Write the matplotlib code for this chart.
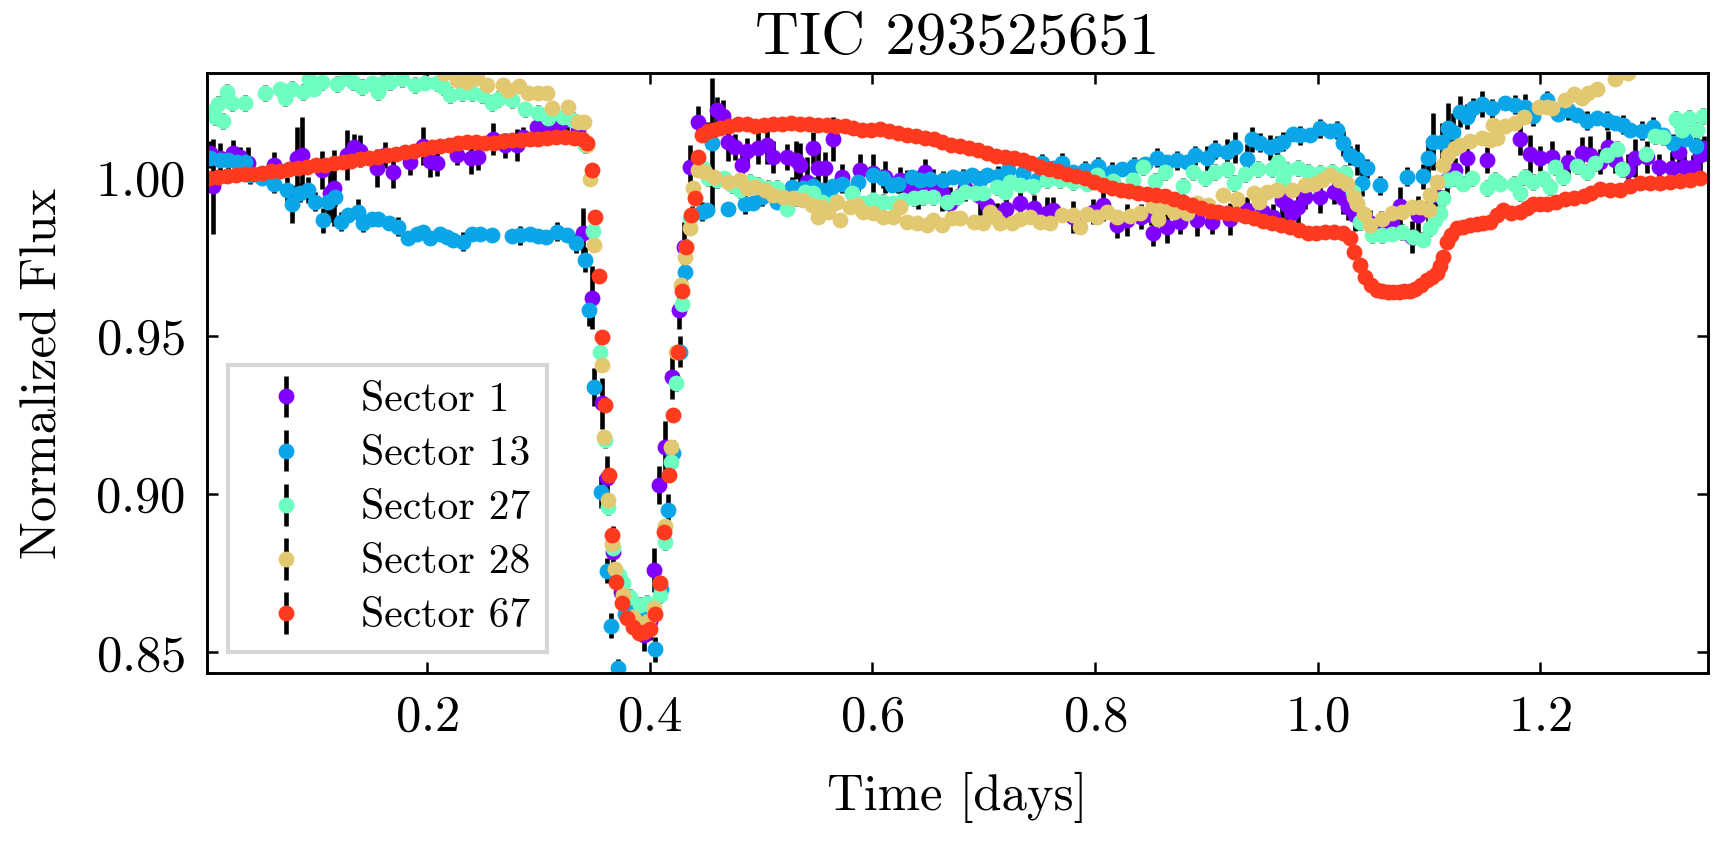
import numpy as np
import matplotlib
matplotlib.use("Agg")
import matplotlib.pyplot as plt
from matplotlib.ticker import MultipleLocator

plt.rcParams['font.family'] = 'serif'
plt.rcParams['font.serif'] = ['cmr10']
plt.rcParams['mathtext.fontset'] = 'cm'
plt.rcParams['axes.formatter.use_mathtext'] = True
plt.rcParams['font.size'] = 12.2
plt.rcParams['axes.linewidth'] = 0.7

labels = ['Sector 1', 'Sector 13', 'Sector 27', 'Sector 28', 'Sector 67']
colors = ['#8000ff', '#0aa6e8', '#6effc0', '#e3c872', '#ff3a1f']

# Sector 1: (time [d], flux, err)
sec1 = [
    (0.005, 1.0076, 0.004), (0.008, 0.9973, 0.015), (0.014, 1.0060, 0.005), (0.026, 1.0077, 0.004),
    (0.032, 1.0065, 0.003), (0.039, 1.0045, 0.005), (0.062, 1.0039, 0.004), (0.083, 1.0060, 0.010),
    (0.088, 1.0070, 0.012), (0.106, 1.0023, 0.006), (0.113, 0.9950, 0.009), (0.116, 0.9966, 0.012),
    (0.128, 1.0071, 0.008), (0.134, 1.0096, 0.004), (0.140, 1.0084, 0.005), (0.155, 1.0030, 0.006),
    (0.162, 1.0071, 0.004), (0.169, 1.0017, 0.005), (0.185, 1.0049, 0.004), (0.196, 1.0099, 0.006),
    (0.203, 1.0053, 0.005), (0.209, 1.0045, 0.004), (0.227, 1.0071, 0.003), (0.239, 1.0061, 0.005),
    (0.246, 1.0065, 0.004), (0.259, 1.0121, 0.005), (0.270, 1.0102, 0.004), (0.281, 1.0102, 0.005),
    (0.286, 1.0129, 0.003), (0.299, 1.0160, 0.005), (0.308, 1.0150, 0.004), (0.317, 1.0156, 0.004),
    (0.326, 1.0181, 0.005), (0.336, 1.0150, 0.004), (0.340, 0.9824, 0.008), (0.348, 0.9620, 0.010),
    (0.357, 0.9287, 0.008), (0.362, 0.9050, 0.007), (0.367, 0.8818, 0.008), (0.374, 0.8690, 0.006),
    (0.382, 0.8624, 0.005), (0.389, 0.8590, 0.004), (0.395, 0.8555, 0.005), (0.400, 0.8600, 0.006),
    (0.404, 0.8760, 0.007), (0.408, 0.9030, 0.006), (0.414, 0.9150, 0.008), (0.420, 0.9370, 0.007),
    (0.426, 0.9580, 0.006), (0.431, 0.9780, 0.008), (0.436, 1.0034, 0.007), (0.4435, 1.0176, 0.005),
    (0.452, 1.0134, 0.004), (0.4605, 1.0213, 0.004), (0.466, 1.0194, 0.005), (0.470, 1.0113, 0.006),
    (0.477, 1.0096, 0.004), (0.483, 1.0039, 0.005), (0.4875, 1.0084, 0.004), (0.497, 1.0093, 0.005),
    (0.5055, 1.0102, 0.006), (0.511, 1.0065, 0.005), (0.523, 1.0065, 0.004), (0.531, 1.0055, 0.006),
    (0.535, 1.0039, 0.007), (0.541, 0.9986, 0.008), (0.547, 1.0093, 0.005), (0.5515, 1.0030, 0.006),
    (0.5575, 1.0030, 0.005), (0.565, 1.0121, 0.007), (0.573, 1.0002, 0.004), (0.589, 1.0023, 0.005),
    (0.601, 1.0014, 0.006), (0.6115, 1.0002, 0.005), (0.625, 0.9992, 0.004), (0.631, 0.9973, 0.005),
    (0.641, 0.9960, 0.006), (0.6475, 1.0018, 0.004), (0.6546, 0.9976, 0.005), (0.6627, 0.9955, 0.006),
    (0.670, 0.9919, 0.005), (0.6834, 0.9966, 0.004), (0.697, 0.9940, 0.006), (0.703, 0.9913, 0.005),
    (0.712, 0.9880, 0.004), (0.720, 0.9900, 0.005), (0.733, 0.9919, 0.006), (0.745, 0.9905, 0.004),
    (0.757, 0.9887, 0.005), (0.7625, 0.9897, 0.004), (0.780, 0.9876, 0.005), (0.798, 0.9892, 0.004),
    (0.807, 0.9913, 0.005), (0.820, 0.9850, 0.004), (0.829, 0.9865, 0.005), (0.841, 0.9876, 0.004),
    (0.850, 0.9881, 0.003), (0.852, 0.9825, 0.004), (0.865, 0.9844, 0.005), (0.8766, 0.9860, 0.004),
    (0.892, 0.9865, 0.005), (0.905, 0.9860, 0.004), (0.9215, 0.9868, 0.005), (0.937, 0.9897, 0.004),
    (0.951, 0.9892, 0.005), (0.960, 0.9876, 0.004), (0.968, 0.9929, 0.006), (0.9727, 0.9913, 0.005),
    (0.977, 0.9887, 0.004), (0.9826, 0.9907, 0.005), (0.9889, 0.9939, 0.004), (1.002, 0.9939, 0.005),
    (1.0145, 0.9955, 0.004), (1.0225, 0.9935, 0.005), (1.0275, 0.9907, 0.004), (1.034, 0.9881, 0.005),
    (1.0475, 0.9856, 0.004), (1.057, 0.9845, 0.005), (1.067, 0.9856, 0.004), (1.0745, 0.9910, 0.006),
    (1.085, 0.9813, 0.005), (1.0905, 0.9881, 0.006), (1.0995, 0.9897, 0.005), (1.1055, 0.9944, 0.006),
    (1.1164, 0.9992, 0.005), (1.1236, 1.0023, 0.004), (1.134, 1.0060, 0.005), (1.1524, 1.0055, 0.004),
    (1.182, 1.0121, 0.005), (1.191, 1.0074, 0.006), (1.200, 1.0061, 0.004), (1.2108, 1.0065, 0.005),
    (1.225, 1.0048, 0.004), (1.2378, 1.0078, 0.005), (1.245, 1.0071, 0.006), (1.254, 1.0050, 0.004),
    (1.261, 1.0097, 0.005), (1.2674, 1.0055, 0.004), (1.279, 1.0023, 0.005), (1.2854, 1.0060, 0.006),
    (1.296, 1.0065, 0.005), (1.307, 1.0034, 0.004), (1.3185, 1.0029, 0.005), (1.3246, 1.0081, 0.004),
    (1.329, 1.0034, 0.005), (1.337, 1.0032, 0.004), (1.3437, 1.0071, 0.005), (1.347, 1.0092, 0.004),
]

# Sector 13: (time [d], flux, err)
sec13 = [
    (0.005, 1.0060, 0.003), (0.014, 1.0055, 0.002), (0.021, 1.0055, 0.003), (0.029, 1.0050, 0.002),
    (0.0365, 1.0050, 0.003), (0.041, 1.0008, 0.003), (0.052, 0.9997, 0.002), (0.062, 0.9981, 0.003),
    (0.0744, 0.9960, 0.004), (0.0787, 0.9916, 0.006), (0.086, 0.9952, 0.003), (0.093, 0.9960, 0.004),
    (0.0993, 0.9923, 0.003), (0.1066, 0.9865, 0.004), (0.111, 0.9923, 0.005), (0.1174, 0.9939, 0.003),
    (0.1227, 0.9860, 0.003), (0.129, 0.9881, 0.002), (0.138, 0.9892, 0.004), (0.1425, 0.9857, 0.003),
    (0.1506, 0.9869, 0.002), (0.156, 0.9869, 0.002), (0.1659, 0.9857, 0.002), (0.174, 0.9844, 0.003),
    (0.183, 0.9808, 0.002), (0.191, 0.9823, 0.002), (0.1965, 0.9828, 0.002), (0.2027, 0.9808, 0.002),
    (0.2117, 0.9823, 0.002), (0.218, 0.9813, 0.002), (0.2235, 0.9802, 0.002), (0.2325, 0.9797, 0.003),
    (0.2404, 0.9821, 0.002), (0.2476, 0.9821, 0.002), (0.2584, 0.9818, 0.002), (0.2764, 0.9815, 0.002),
    (0.2836, 0.9818, 0.003), (0.2925, 0.9821, 0.002), (0.2997, 0.9815, 0.002), (0.307, 0.9813, 0.002),
    (0.3168, 0.9828, 0.003), (0.3258, 0.9818, 0.002), (0.334, 0.9792, 0.003), (0.342, 0.9740, 0.004),
    (0.3455, 0.9580, 0.005), (0.350, 0.9339, 0.006), (0.3563, 0.9007, 0.005), (0.3614, 0.8758, 0.004),
    (0.3653, 0.8584, 0.004), (0.3713, 0.8450, 0.003), (0.378, 0.8620, 0.003), (0.385, 0.8650, 0.003),
    (0.392, 0.8630, 0.003), (0.398, 0.8580, 0.003), (0.405, 0.8510, 0.004), (0.410, 0.8700, 0.004),
    (0.416, 0.8950, 0.005), (0.421, 0.9130, 0.004), (0.427, 0.9450, 0.005), (0.432, 0.9700, 0.004),
    (0.438, 0.9880, 0.003), (0.4468, 0.9892, 0.003), (0.4516, 0.9897, 0.002), (0.456, 1.0108, 0.0205),
    (0.4705, 0.9900, 0.002), (0.4857, 0.9916, 0.003), (0.493, 0.9918, 0.002), (0.501, 0.9939, 0.003),
    (0.5145, 0.9923, 0.002), (0.528, 0.9971, 0.003), (0.538, 0.9966, 0.002), (0.547, 0.9973, 0.003),
    (0.555, 0.9960, 0.002), (0.5605, 0.9952, 0.003), (0.565, 0.9973, 0.002), (0.573, 0.9981, 0.003),
    (0.582, 0.9950, 0.002), (0.5875, 0.9986, 0.003), (0.601, 1.0008, 0.002), (0.6097, 0.9997, 0.003),
    (0.6178, 0.9976, 0.002), (0.6232, 0.9981, 0.003), (0.6358, 1.0002, 0.002), (0.643, 0.9992, 0.003),
    (0.652, 0.9994, 0.002), (0.6637, 0.9992, 0.003), (0.6727, 1.0002, 0.002), (0.6817, 0.9997, 0.003),
    (0.6897, 1.0008, 0.002), (0.6968, 0.9992, 0.003), (0.703, 1.0008, 0.002), (0.713, 1.0005, 0.003),
    (0.722, 1.0023, 0.002), (0.735, 1.0015, 0.003), (0.748, 0.9992, 0.002), (0.7525, 1.0045, 0.003),
    (0.762, 1.0030, 0.002), (0.7705, 1.0046, 0.003), (0.7804, 1.0018, 0.002), (0.7912, 1.0023, 0.003),
    (0.803, 1.0036, 0.003), (0.8155, 1.0018, 0.003), (0.8245, 1.0026, 0.002), (0.835, 1.0035, 0.003),
    (0.845, 1.0042, 0.002), (0.856, 1.0063, 0.003), (0.865, 1.0050, 0.002), (0.874, 1.0055, 0.003),
    (0.883, 1.0050, 0.002), (0.890, 1.0071, 0.003), (0.9008, 1.0060, 0.004), (0.908, 1.0087, 0.003),
    (0.9188, 1.0081, 0.004), (0.926, 1.0095, 0.005), (0.9368, 1.0057, 0.005), (0.941, 1.0120, 0.004),
    (0.9484, 1.0110, 0.003), (0.9574, 1.0095, 0.004), (0.9637, 1.0102, 0.003), (0.969, 1.0113, 0.003),
    (0.978, 1.0137, 0.002), (0.9844, 1.0134, 0.003), (0.9934, 1.0134, 0.002), (1.0024, 1.0155, 0.003),
    (1.0114, 1.0148, 0.002), (1.0176, 1.0150, 0.003), (1.023, 1.0108, 0.004), (1.0293, 1.0071, 0.003),
    (1.0356, 1.0057, 0.005), (1.040, 0.9983, 0.004), (1.0445, 1.0029, 0.003), (1.0563, 0.9976, 0.003),
    (1.0805, 1.0002, 0.003), (1.095, 1.0004, 0.004), (1.0995, 1.0060, 0.006), (1.1039, 1.0113, 0.009),
    (1.112, 1.0113, 0.006), (1.1174, 1.0155, 0.008), (1.122, 1.0144, 0.006), (1.128, 1.0208, 0.005),
    (1.1344, 1.0192, 0.004), (1.1398, 1.0221, 0.003), (1.148, 1.0232, 0.004), (1.157, 1.0218, 0.003),
    (1.1686, 1.0236, 0.002), (1.1776, 1.0229, 0.003), (1.1866, 1.0223, 0.004), (1.194, 1.0194, 0.003),
    (1.2066, 1.0244, 0.003), (1.216, 1.0202, 0.002), (1.2252, 1.0213, 0.003), (1.2333, 1.0197, 0.002),
    (1.2423, 1.0179, 0.003), (1.2513, 1.0187, 0.002), (1.2603, 1.0181, 0.003), (1.2675, 1.0173, 0.002),
    (1.2747, 1.0166, 0.003), (1.281, 1.0150, 0.002), (1.2918, 1.0148, 0.003), (1.3017, 1.0160, 0.003),
    (1.3107, 1.0134, 0.002), (1.3197, 1.0108, 0.003), (1.330, 1.0120, 0.002), (1.340, 1.0100, 0.003),
]

# Sector 27: (time [d], flux)
sec27 = [
    (0.0066, 1.0208), (0.0095, 1.0192), (0.0125, 1.0232), (0.0165, 1.0179), (0.020, 1.0269),
    (0.0245, 1.0234), (0.0365, 1.0234), (0.0545, 1.0266), (0.068, 1.0278), (0.0724, 1.0252),
    (0.0785, 1.0281), (0.0889, 1.0269), (0.0943, 1.0310), (0.0985, 1.0281), (0.1054, 1.0302),
    (0.1189, 1.0295), (0.128, 1.0318), (0.1338, 1.0302), (0.1413, 1.0285), (0.1503, 1.0297),
    (0.1562, 1.0271), (0.1607, 1.0300), (0.1668, 1.0302), (0.1772, 1.0310), (0.1892, 1.0292),
    (0.1982, 1.0300), (0.2087, 1.0297), (0.2147, 1.0287), (0.2207, 1.0260), (0.2312, 1.0266),
    (0.2402, 1.0266), (0.2491, 1.0260), (0.2581, 1.0234), (0.2641, 1.0247), (0.2761, 1.0244),
    (0.288, 1.0215), (0.300, 1.0204), (0.309, 1.0187), (0.3225, 1.0190), (0.3315, 1.0181),
    (0.342, 1.0102), (0.3494, 0.9832), (0.355, 0.9450), (0.360, 0.9170), (0.3629, 0.8958),
    (0.3668, 0.8829), (0.372, 0.8744), (0.3758, 0.8718), (0.3824, 0.8676), (0.3914, 0.8649),
    (0.3974, 0.8655), (0.403, 0.8640), (0.409, 0.8680), (0.414, 0.8850), (0.419, 0.9100),
    (0.424, 0.9350), (0.429, 0.9600), (0.433, 0.9780), (0.4363, 0.9871), (0.4483, 1.0029),
    (0.4528, 0.9997), (0.4603, 0.9992), (0.4663, 0.9997), (0.4738, 0.9976), (0.4812, 0.9960),
    (0.4902, 0.9986), (0.4977, 0.9976), (0.5067, 0.9966), (0.5142, 0.9966), (0.5232, 0.9902),
    (0.5322, 0.9934), (0.5396, 0.9955), (0.5471, 0.9950), (0.5546, 0.9923), (0.5666, 0.9923),
    (0.5816, 0.9950), (0.592, 0.9918), (0.601, 0.9929), (0.610, 0.9923), (0.619, 0.9918),
    (0.628, 0.9929), (0.637, 0.9934), (0.6459, 0.9939), (0.6549, 0.9939), (0.6669, 0.9923),
    (0.6759, 0.9939), (0.6834, 0.9955), (0.692, 0.9950), (0.6998, 0.9950), (0.7118, 0.9969),
    (0.7193, 0.9955), (0.7235, 0.9986), (0.7328, 0.9976), (0.7448, 0.9973), (0.7568, 0.9992),
    (0.7687, 0.9992), (0.7806, 0.9986), (0.7926, 0.9981), (0.8016, 1.0008), (0.816, 0.9990),
    (0.8344, 0.9992), (0.8434, 1.0032), (0.8541, 0.9990), (0.8631, 1.0018), (0.8793, 0.9973),
    (0.8883, 1.0018), (0.8991, 0.9997), (0.908, 1.0018), (0.9188, 1.0026), (0.9245, 0.9983),
    (0.935, 1.0010), (0.9468, 1.0026), (0.9594, 1.0026), (0.9648, 1.0050), (0.969, 0.9992),
    (0.9727, 1.0023), (0.9826, 1.0029), (0.9916, 1.0018), (1.0024, 1.0013), (1.0131, 1.0018),
    (1.0248, 1.0013), (1.032, 0.9955), (1.0355, 0.9918), (1.0383, 0.9860), (1.0491, 0.9818),
    (1.058, 0.9818), (1.067, 0.9823), (1.076, 0.9828), (1.0859, 0.9813), (1.0949, 0.9804),
    (1.1012, 0.9839), (1.1057, 0.9865), (1.1101, 0.9887), (1.1131, 0.9934), (1.1176, 0.9992),
    (1.1236, 0.9997), (1.1311, 0.9981), (1.1386, 0.9997), (1.1521, 0.9966), (1.1596, 0.9992),
    (1.1641, 0.9981), (1.1761, 0.9981), (1.1821, 0.9950), (1.1866, 1.0002), (1.194, 0.9986),
    (1.203, 0.9997), (1.209, 0.9970), (1.2135, 1.0032), (1.2207, 1.0002), (1.2333, 1.0036),
    (1.2423, 1.0018), (1.2495, 1.0045), (1.2603, 1.0071), (1.2693, 1.0090), (1.2738, 1.0026),
    (1.2954, 1.0074), (1.3035, 1.0131), (1.3107, 1.0127), (1.3224, 1.0184), (1.3278, 1.0150),
    (1.3341, 1.0187), (1.3413, 1.0150), (1.3467, 1.0194),
]

# Sector 28: (time [d], flux)
sec28 = [
    (0.215, 1.0330), (0.2267, 1.0308), (0.2357, 1.0302), (0.2447, 1.0313), (0.2536, 1.0292),
    (0.2686, 1.0292), (0.2731, 1.0276), (0.2821, 1.0289), (0.291, 1.0266), (0.300, 1.0266),
    (0.3075, 1.0268), (0.312, 1.0218), (0.327, 1.0223), (0.336, 1.0176), (0.3405, 1.0176),
    (0.3435, 1.0102), (0.3465, 0.9994), (0.3503, 0.9786), (0.357, 0.9407), (0.3593, 0.9179),
    (0.3629, 0.8981), (0.3665, 0.8842), (0.369, 0.8765), (0.376, 0.8680), (0.3854, 0.8612),
    (0.392, 0.8590), (0.398, 0.8600), (0.404, 0.8640), (0.409, 0.8720), (0.414, 0.8900),
    (0.419, 0.9150), (0.424, 0.9450), (0.428, 0.9660), (0.432, 0.9750), (0.4363, 0.9839),
    (0.4393, 0.9966), (0.4438, 1.0023), (0.4498, 1.0018), (0.4573, 1.0000), (0.4707, 0.9986),
    (0.4812, 0.9992), (0.4872, 0.9966), (0.4947, 0.9971), (0.5037, 0.9962), (0.5112, 0.9944),
    (0.5201, 0.9939), (0.5291, 0.9934), (0.5381, 0.9929), (0.5456, 0.9913), (0.5516, 0.9876),
    (0.5546, 0.9907), (0.5606, 0.9892), (0.5681, 0.9923), (0.5711, 0.9865), (0.5801, 0.9907),
    (0.586, 0.9913), (0.592, 0.9892), (0.601, 0.9887), (0.610, 0.9876), (0.619, 0.9876),
    (0.625, 0.9907), (0.631, 0.9860), (0.640, 0.9855), (0.6489, 0.9850), (0.6549, 0.9865),
    (0.6624, 0.9850), (0.6714, 0.9871), (0.6789, 0.9871), (0.6909, 0.9860), (0.6998, 0.9855),
    (0.7058, 0.9892), (0.7103, 0.9876), (0.7148, 0.9855), (0.7253, 0.9855), (0.7328, 0.9868),
    (0.7418, 0.9876), (0.7508, 0.9860), (0.7598, 0.9855), (0.7703, 0.9881), (0.7807, 0.9881),
    (0.7867, 0.9844), (0.7926, 0.9884), (0.8016, 0.9876), (0.8106, 0.9892), (0.8196, 0.9876),
    (0.8316, 0.9878), (0.8406, 0.9887), (0.8526, 0.9910), (0.8571, 0.9868), (0.8616, 0.9907),
    (0.8706, 0.9892), (0.8826, 0.9887), (0.8916, 0.9918), (0.902, 0.9913), (0.9155, 0.9944),
    (0.9275, 0.9931), (0.9425, 0.9950), (0.947, 0.9923), (0.9545, 0.9955), (0.9635, 0.9960),
    (0.977, 0.9960), (0.989, 0.9976), (0.9965, 0.9981), (1.004, 0.9992), (1.0114, 1.0008),
    (1.0189, 0.9992), (1.0265, 0.9981), (1.0324, 0.9939), (1.0354, 0.9916), (1.0414, 0.9884),
    (1.0473, 0.9850), (1.0578, 0.9868), (1.0668, 0.9887), (1.0758, 0.9892), (1.0847, 0.9907),
    (1.0922, 0.9907), (1.0997, 0.9897), (1.1012, 0.9944), (1.1072, 0.9986), (1.1131, 1.0039),
    (1.1176, 1.0071), (1.1236, 1.0092), (1.1281, 1.0102), (1.137, 1.0115), (1.1476, 1.0124),
    (1.155, 1.0118), (1.158, 1.0166), (1.161, 1.0124), (1.1686, 1.0162), (1.1776, 1.0171),
    (1.1851, 1.0192), (1.1986, 1.0223), (1.2061, 1.0223), (1.211, 1.0218), (1.2227, 1.0244),
    (1.2306, 1.0263), (1.2378, 1.0250), (1.2432, 1.0268), (1.2513, 1.0281), (1.2675, 1.0310),
    (1.279, 1.0331),
]

# Sector 67: (time [d], flux)
sec67 = [
    (0.004, 0.9998), (0.012, 1.0003), (0.020, 1.0004), (0.028, 1.0008), (0.036, 1.0010),
    (0.044, 1.0012), (0.052, 1.0015), (0.060, 1.0019), (0.068, 1.0022), (0.076, 1.0027),
    (0.084, 1.0030), (0.092, 1.0034), (0.100, 1.0038), (0.108, 1.0041), (0.116, 1.0046),
    (0.124, 1.0050), (0.132, 1.0053), (0.140, 1.0058), (0.148, 1.0061), (0.156, 1.0064),
    (0.164, 1.0070), (0.172, 1.0075), (0.180, 1.0079), (0.188, 1.0084), (0.196, 1.0090),
    (0.204, 1.0096), (0.212, 1.0100), (0.220, 1.0104), (0.228, 1.0109), (0.236, 1.0113),
    (0.244, 1.0111), (0.252, 1.0109), (0.260, 1.0110), (0.268, 1.0115), (0.276, 1.0117),
    (0.284, 1.0119), (0.292, 1.0121), (0.300, 1.0123), (0.308, 1.0125), (0.316, 1.0127),
    (0.324, 1.0128), (0.332, 1.0126), (0.339, 1.0120), (0.344, 1.0110), (0.348, 1.0025),
    (0.351, 0.9876), (0.354, 0.9690), (0.357, 0.9497), (0.360, 0.9280), (0.3636, 0.9060),
    (0.366, 0.8870), (0.370, 0.8723), (0.375, 0.8657), (0.380, 0.8610), (0.385, 0.8580),
    (0.390, 0.8560), (0.395, 0.8565), (0.400, 0.8575), (0.405, 0.8620), (0.409, 0.8720),
    (0.413, 0.8880), (0.417, 0.9060), (0.421, 0.9250), (0.425, 0.9450), (0.429, 0.9640),
    (0.433, 0.9780), (0.437, 0.9880), (0.4408, 0.9935), (0.4438, 1.0065), (0.447, 1.0135),
    (0.452, 1.0148), (0.457, 1.0150), (0.463, 1.0156), (0.471, 1.0162), (0.479, 1.0170),
    (0.487, 1.0168), (0.495, 1.0162), (0.503, 1.0166), (0.511, 1.0169), (0.519, 1.0170),
    (0.527, 1.0172), (0.535, 1.0170), (0.543, 1.0168), (0.551, 1.0165), (0.559, 1.0166),
    (0.567, 1.0164), (0.575, 1.0162), (0.583, 1.0156), (0.591, 1.0150), (0.599, 1.0150),
    (0.607, 1.0152), (0.615, 1.0148), (0.623, 1.0140), (0.631, 1.0134), (0.639, 1.0130),
    (0.647, 1.0126), (0.655, 1.0120), (0.663, 1.0112), (0.671, 1.0104), (0.679, 1.0098),
    (0.687, 1.0094), (0.695, 1.0088), (0.703, 1.0076), (0.711, 1.0069), (0.719, 1.0066),
    (0.727, 1.0060), (0.735, 1.0056), (0.743, 1.0045), (0.751, 1.0034), (0.759, 1.0028),
    (0.767, 1.0020), (0.775, 1.0012), (0.783, 1.0005), (0.791, 0.9998), (0.799, 0.9985),
    (0.807, 0.9975), (0.815, 0.9967), (0.823, 0.9962), (0.831, 0.9957), (0.839, 0.9951),
    (0.847, 0.9948), (0.855, 0.9944), (0.863, 0.9940), (0.871, 0.9932), (0.879, 0.9922),
    (0.887, 0.9912), (0.895, 0.9903), (0.903, 0.9895), (0.911, 0.9890), (0.919, 0.9888),
    (0.927, 0.9884), (0.935, 0.9878), (0.943, 0.9872), (0.951, 0.9862), (0.959, 0.9855),
    (0.967, 0.9850), (0.975, 0.9844), (0.983, 0.9834), (0.991, 0.9824), (0.999, 0.9826),
    (1.007, 0.9829), (1.015, 0.9827), (1.023, 0.9824), (1.029, 0.9809), (1.033, 0.9765),
    (1.038, 0.9723), (1.043, 0.9686), (1.048, 0.9660), (1.053, 0.9646), (1.058, 0.9641),
    (1.063, 0.9639), (1.068, 0.9638), (1.073, 0.9639), (1.078, 0.9640), (1.083, 0.9642),
    (1.088, 0.9648), (1.093, 0.9660), (1.098, 0.9676), (1.103, 0.9685), (1.107, 0.9698),
    (1.110, 0.9720), (1.113, 0.9750), (1.116, 0.9797), (1.120, 0.9818), (1.125, 0.9840),
    (1.131, 0.9845), (1.137, 0.9849), (1.143, 0.9852), (1.149, 0.9856), (1.155, 0.9860),
    (1.161, 0.9880), (1.167, 0.9897), (1.174, 0.9889), (1.182, 0.9890), (1.188, 0.9905),
    (1.194, 0.9916), (1.200, 0.9915), (1.206, 0.9916), (1.214, 0.9924), (1.222, 0.9931),
    (1.230, 0.9936), (1.239, 0.9941), (1.246, 0.9952), (1.254, 0.9963), (1.263, 0.9962),
    (1.272, 0.9960), (1.281, 0.9972), (1.290, 0.9982), (1.299, 0.9983), (1.308, 0.9983),
    (1.317, 0.9987), (1.326, 0.9990), (1.335, 0.9993), (1.344, 0.9997),
]

# typical flux errors for the sectors without per-point values
err27 = 0.0025
err28 = 0.0015
err67 = 0.0005

sectors = [(sec1, None), (sec13, None), (sec27, err27), (sec28, err28), (sec67, err67)]

fig = plt.figure(figsize=(5.757, 2.82), dpi=300)
ax = fig.add_axes([0.1199, 0.2045, 0.8691, 0.7092])

for (data, err), lab, col in zip(sectors, labels, colors):
    arr = np.array(data)
    t, f = arr[:, 0], arr[:, 1]
    e = arr[:, 2] if arr.shape[1] == 3 else err
    ax.errorbar(t, f, yerr=e, fmt='o', ms=2.8, color=col, ecolor='k',
                elinewidth=1.1, capsize=0, label=lab)

ax.set_xlim(0.0023, 1.3509)
ax.set_ylim(0.8435, 1.0330)
ax.xaxis.set_major_locator(MultipleLocator(0.2))
ax.yaxis.set_major_locator(MultipleLocator(0.05))
ax.minorticks_off()
ax.tick_params(direction='in', top=True, right=True, length=2.6, width=0.6, pad=5.2)

ax.set_xlabel('Time [days]', labelpad=7.5)
ax.set_ylabel('Normalized Flux', labelpad=7)
ax.set_title('TIC 293525651', pad=4.5)

ax.legend(loc='lower left', fontsize=10, fancybox=False, edgecolor='0.8',
          labelspacing=0.4)

fig.savefig('out.png', dpi=300)
